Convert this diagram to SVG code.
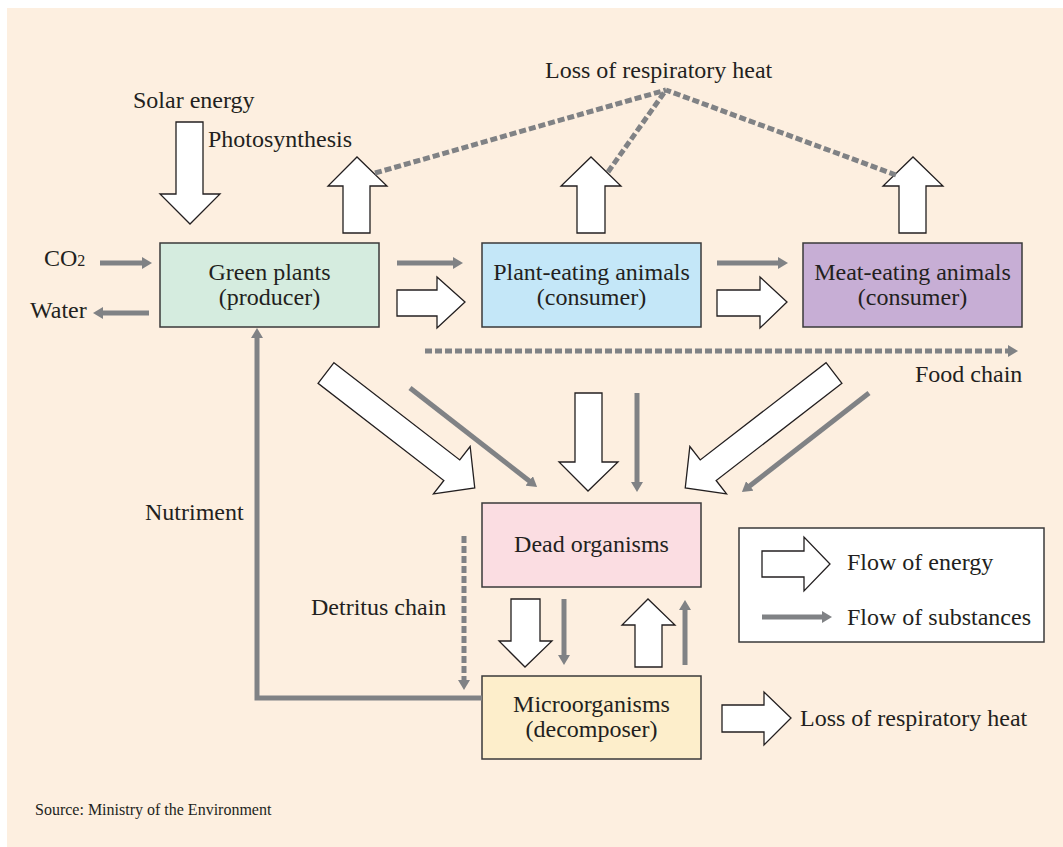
<svg xmlns="http://www.w3.org/2000/svg" width="1063" height="847" viewBox="0 0 1063 847">
<style>
text{font-family:"Liberation Serif","Times New Roman",serif;font-size:24px;fill:#231f20}
.c{text-anchor:middle}
.box{stroke:#3a3a3a;stroke-width:1.5}
.blk{fill:#fff;stroke:#231f20;stroke-width:1.3;stroke-linejoin:miter}
.g{stroke:#808285;stroke-width:5;fill:none}
.d{stroke:#808285;stroke-width:5;fill:none;stroke-dasharray:7 3}
</style>
<defs>
<marker id="ah" viewBox="0 0 10 12" refX="1" refY="6" markerWidth="10" markerHeight="12" markerUnits="userSpaceOnUse" orient="auto">
<path d="M0,0 L10,6 L0,12 z" fill="#808285"/>
</marker>
<path id="diag" d="M0,-13 L159,-13 L159,-30 L188,0 L159,30 L159,13 L0,13 z"/>
</defs>
<rect x="7" y="8" width="1056" height="839" fill="#fdefe0"/>

<g id="green-plants">
<rect class="box" x="160" y="243" width="219" height="84" fill="#d5ecdf"/>
<text class="c" x="269.5" y="280">Green plants</text>
<text class="c" x="269.5" y="305">(producer)</text>
</g>
<g id="plant-eating">
<rect class="box" x="482" y="243" width="219" height="84" fill="#c4e7f8"/>
<text class="c" x="591.5" y="280">Plant-eating animals</text>
<text class="c" x="591.5" y="305">(consumer)</text>
</g>
<g id="meat-eating">
<rect class="box" x="803" y="243" width="219" height="84" fill="#c7aed5"/>
<text class="c" x="912.5" y="280">Meat-eating animals</text>
<text class="c" x="912.5" y="305">(consumer)</text>
</g>
<g id="dead-organisms">
<rect class="box" x="482" y="503" width="219" height="84" fill="#fbdde2"/>
<text class="c" x="591.5" y="552">Dead organisms</text>
</g>
<g id="microorganisms">
<rect class="box" x="482" y="676" width="219" height="83" fill="#fdeecb"/>
<text class="c" x="591.5" y="712">Microorganisms</text>
<text class="c" x="591.5" y="737">(decomposer)</text>
</g>
<g id="legend">
<rect x="739" y="528" width="305" height="114" fill="#fff" stroke="#3a3a3a" stroke-width="1.5"/>
<polygon class="blk" points="762,551 804,551 804,537 830,564 804,591 804,577 762,577"/>
<text x="847" y="570">Flow of energy</text>
<line class="g" x1="762" y1="617" x2="823" y2="617" marker-end="url(#ah)"/>
<text x="847" y="625">Flow of substances</text>
</g>

<g id="labels">
<text x="545" y="78">Loss of respiratory heat</text>
<text x="133" y="108">Solar energy</text>
<text x="208" y="147">Photosynthesis</text>
<text x="44" y="266">CO<tspan font-size="16">2</tspan></text>
<text x="30" y="318">Water</text>
<text x="915" y="382">Food chain</text>
<text x="145" y="520">Nutriment</text>
<text x="311" y="615">Detritus chain</text>
<text x="800" y="726">Loss of respiratory heat</text>
<text x="35" y="815" style="font-size:16px">Source: Ministry of the Environment</text>
</g>

<g id="connectors">
<!-- energy block arrows -->
<polygon class="blk" points="176,122 203,122 203,194 220,194 190,224 160,194 176,194"/>
<polygon class="blk" points="343,233 370,233 370,186 387,186 357,157 328,186 343,186"/>
<polygon class="blk" points="577,233 605,233 605,186 621,186 591,157 561,186 577,186"/>
<polygon class="blk" points="899,233 926,233 926,186 943,186 913,157 883,186 899,186"/>
<polygon class="blk" points="397,290 437,290 437,277 465,302 437,328 437,316 397,316"/>
<polygon class="blk" points="717,290 760,290 760,277 787,302 760,328 760,316 717,316"/>
<polygon class="blk" points="575,393 602,393 602,462 618,462 588,491 559,462 575,462"/>
<use href="#diag" class="blk" transform="translate(326,373) rotate(37.7)"/>
<use href="#diag" class="blk" transform="translate(834,373) rotate(142.3)"/>
<polygon class="blk" points="511,599 540,599 540,641 552,641 525,667 499,641 511,641"/>
<polygon class="blk" points="635,667 662,667 662,625 675,625 648,599 622,625 635,625"/>
<polygon class="blk" points="722,705 764,705 764,692 791,718 764,745 764,732 722,732"/>
<!-- substance arrows -->
<line class="g" x1="100" y1="263" x2="143" y2="263" marker-end="url(#ah)"/>
<line class="g" x1="149" y1="313" x2="102" y2="313" marker-end="url(#ah)"/>
<line class="g" x1="397" y1="263" x2="454" y2="263" marker-end="url(#ah)"/>
<line class="g" x1="717" y1="263" x2="779" y2="263" marker-end="url(#ah)"/>
<line class="g" x1="410" y1="388" x2="530" y2="481.5" marker-end="url(#ah)"/>
<line class="g" x1="637" y1="393" x2="637" y2="483" marker-end="url(#ah)"/>
<line class="g" x1="869" y1="393" x2="749" y2="486.5" marker-end="url(#ah)"/>
<line class="g" x1="564" y1="599" x2="564" y2="656" marker-end="url(#ah)"/>
<line class="g" x1="685" y1="665" x2="685" y2="609" marker-end="url(#ah)"/>
<polyline class="g" points="482,698 257,698 257,337" marker-end="url(#ah)"/>
<!-- dashed -->
<line class="d" x1="425" y1="351" x2="1009" y2="351" marker-end="url(#ah)"/>
<line class="d" x1="464" y1="536" x2="464" y2="681" marker-end="url(#ah)"/>
<line class="d" x1="375" y1="173" x2="666" y2="90"/>
<line class="d" x1="608" y1="172" x2="666" y2="90"/>
<line class="d" x1="896" y1="175" x2="666" y2="90"/>
</g>
</svg>
